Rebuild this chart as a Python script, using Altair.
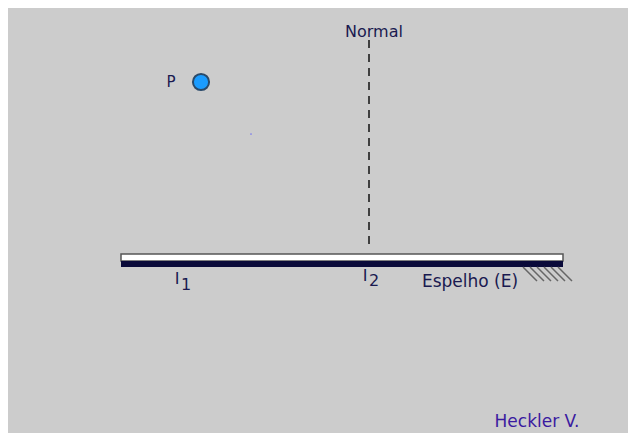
import altair as alt
import pandas as pd

# Coordinates in the drawing's own frame (units ~ px, y grows downward)
W, H = 620, 425

# Mirror
mirror_x = [113, 555]
mirror_glass_y = [246, 253]
mirror_back_y = [253, 259]

# Hatch lines behind mirror (start x values)
hatch_x0 = [515, 522, 529, 536, 543, 550]
hatch_y0 = 259
hatch_len = 14

# Normal line
normal_x = 361
normal_y = [32, 242]

# Point P
p_x, p_y = 193, 74
dot_x, dot_y = 243, 126

texts = [
    {"t": "Normal", "x": 366, "y": 24, "s": 16, "c": "#1a1a50"},
    {"t": "P", "x": 163, "y": 74, "s": 15, "c": "#1a1a50"},
    {"t": "I", "x": 169, "y": 271, "s": 16, "c": "#1a1a50"},
    {"t": "1", "x": 178, "y": 277, "s": 16, "c": "#1a1a50"},
    {"t": "I", "x": 357, "y": 268, "s": 16, "c": "#1a1a50"},
    {"t": "2", "x": 366, "y": 273, "s": 16, "c": "#1a1a50"},
    {"t": "Espelho (E)", "x": 462, "y": 274, "s": 17, "c": "#1a1a50"},
    {"t": "Heckler V.", "x": 529, "y": 414, "s": 17, "c": "#3a1aa0"},
]

xs = alt.Scale(domain=[0, W], nice=False, zero=False)
ys = alt.Scale(domain=[H, 0], nice=False, zero=False)
noax = None

def X(field="x"):
    return alt.X(f"{field}:Q", scale=xs, axis=noax)

def Y(field="y"):
    return alt.Y(f"{field}:Q", scale=ys, axis=noax)

glass = alt.Chart(pd.DataFrame({"x": [mirror_x[0]], "x2": [mirror_x[1]],
                                "y": [mirror_glass_y[0]], "y2": [mirror_glass_y[1]]})).mark_rect(
    fill="white", stroke="#555555", strokeWidth=1.5).encode(
    x=X(), x2="x2:Q", y=Y(), y2="y2:Q")

back = alt.Chart(pd.DataFrame({"x": [mirror_x[0]], "x2": [mirror_x[1]],
                               "y": [mirror_back_y[0]], "y2": [mirror_back_y[1]]})).mark_rect(
    fill="#0a0a3a").encode(x=X(), x2="x2:Q", y=Y(), y2="y2:Q")

hatch_df = pd.DataFrame({"x": hatch_x0, "x2": [v + hatch_len for v in hatch_x0],
                         "y": [hatch_y0] * len(hatch_x0),
                         "y2": [hatch_y0 + hatch_len] * len(hatch_x0)})
hatch = alt.Chart(hatch_df).mark_rule(color="#666666", strokeWidth=1.5).encode(
    x=X(), x2="x2:Q", y=Y(), y2="y2:Q")

normal = alt.Chart(pd.DataFrame({"x": [normal_x], "y": [normal_y[0]], "y2": [normal_y[1]]})).mark_rule(
    color="#111111", strokeWidth=1.5, strokeDash=[8, 6]).encode(x=X(), y=Y(), y2="y2:Q")

pt = alt.Chart(pd.DataFrame({"x": [p_x], "y": [p_y]})).mark_circle(
    size=260, color="#1a9cff", opacity=1, stroke="#2a4a6a", strokeWidth=2).encode(x=X(), y=Y())

dot = alt.Chart(pd.DataFrame({"x": [dot_x], "y": [dot_y]})).mark_circle(
    size=3, color="#7a7aee", opacity=1).encode(x=X(), y=Y())

tdf = pd.DataFrame(texts)
labels = alt.Chart(tdf).mark_text(font="DejaVu Sans", baseline="middle", align="center").encode(
    x=X(), y=Y(), text="t:N",
    size=alt.Size("s:Q", scale=None, legend=None),
    color=alt.Color("c:N", scale=None, legend=None))

chart = alt.layer(glass, back, hatch, normal, pt, dot, labels).properties(
    width=W, height=H, background="#cccccc", padding=0,
    autosize=alt.AutoSizeParams(type="none")
).configure_view(stroke=None)

chart.save("out.html", embed_options={"renderer": "svg", "actions": False})
